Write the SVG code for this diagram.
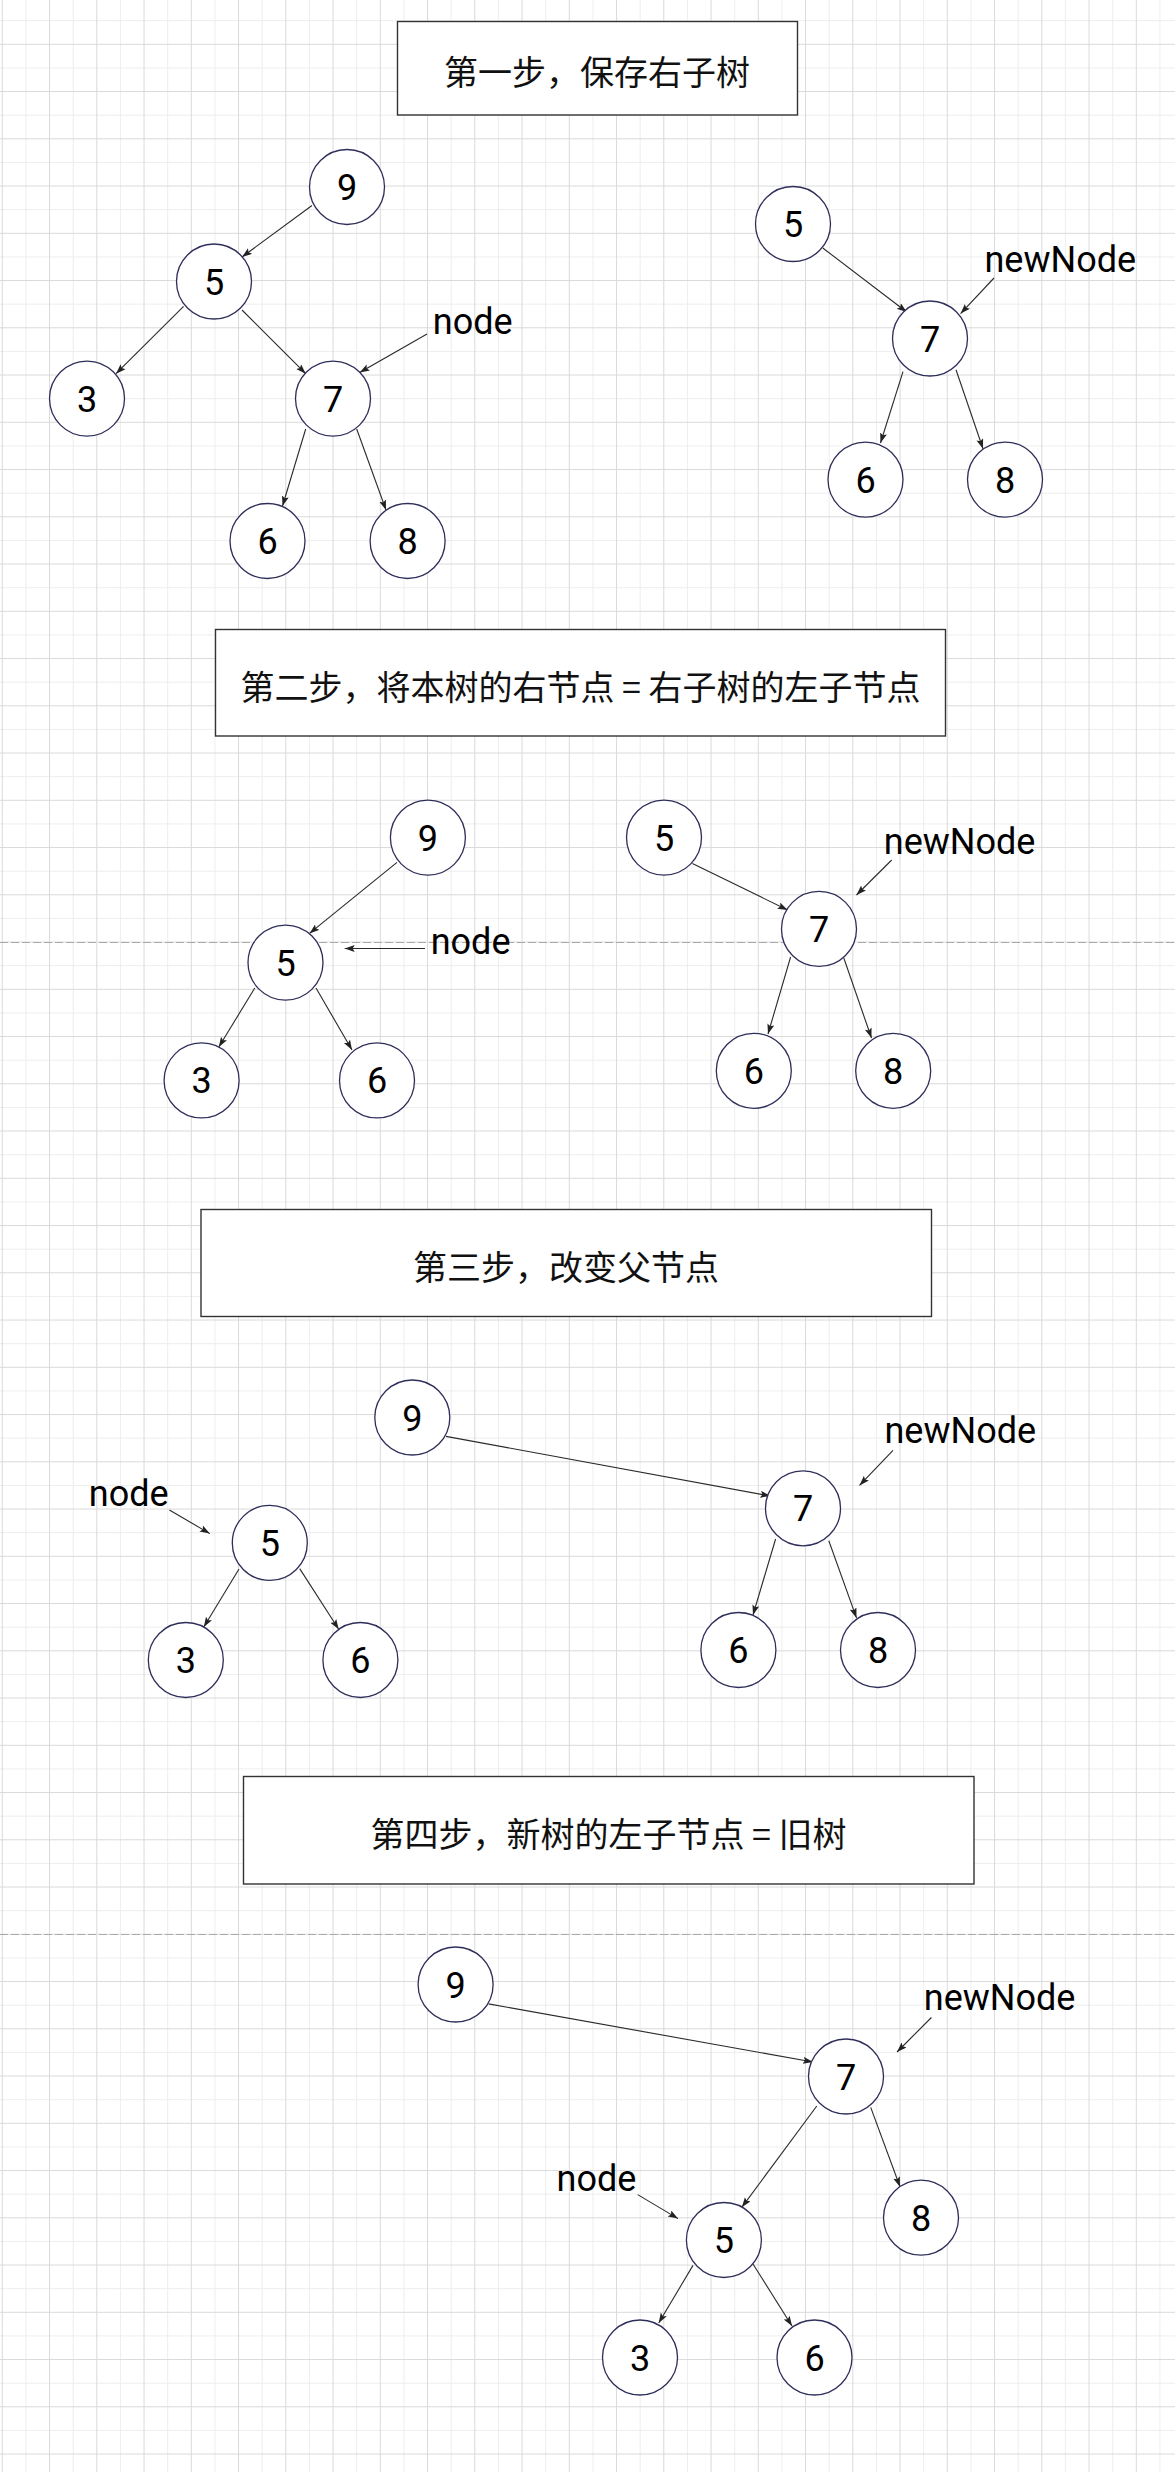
<svg xmlns="http://www.w3.org/2000/svg" width="1175" height="2472" viewBox="0 0 1175 2472">
<defs>
<pattern id="grid" patternUnits="userSpaceOnUse" x="1.8" y="43.8" width="47.25" height="47.25">
<path d="M24.1 0 V47.25 M0 24.1 H47.25" stroke="#ededed" stroke-width="1" fill="none"/>
<path d="M0.5 0 V47.25 M0 0.5 H47.25" stroke="#d9d9d9" stroke-width="1" fill="none"/>
</pattern>
<marker id="a" markerUnits="userSpaceOnUse" markerWidth="12" markerHeight="10" refX="10" refY="3.5" orient="auto">
<path d="M0,0 L10,3.5 L0,7 L2,3.5 z" fill="#222"/>
</marker>
<style>
.n circle{fill:#fff;stroke:#2e2e5a;stroke-width:1.3}
.n text,.lbl{font-family:Roboto,"Liberation Sans",sans-serif;font-size:36px;text-anchor:middle;fill:#000}
.e path{stroke:#2a2a2a;stroke-width:1.1;fill:none;marker-end:url(#a)}
.t rect{fill:#fff;stroke:#333;stroke-width:1.4}
.t text{font-family:"Noto Sans CJK SC","Noto Sans",sans-serif;font-size:34px;text-anchor:middle;dominant-baseline:central;fill:#111}
.pb{stroke:#aaaaaa;stroke-width:1.2;stroke-dasharray:8 3}
</style>
</defs>
<rect width="1175" height="2472" fill="#fff"/>
<rect width="1175" height="2472" fill="url(#grid)"/>
<line class="pb" x1="0" y1="942.5" x2="1175" y2="942.5"/>
<line class="pb" x1="0" y1="1934.5" x2="1175" y2="1934.5"/>

<g id="title1" class="t"><rect x="397.5" y="21.5" width="400" height="93.5"/><text x="597" y="70">第一步，保存右子树</text></g>
<g id="title2" class="t"><rect x="215.5" y="629.5" width="730" height="106.5"/><text x="580.5" y="685">第二步，将本树的右节点 = 右子树的左子节点</text></g>
<g id="title3" class="t"><rect x="201" y="1209.5" width="730.5" height="107"/><text x="566" y="1265">第三步，改变父节点</text></g>
<g id="title4" class="t"><rect x="243.5" y="1776.5" width="730.5" height="107.5"/><text x="608.5" y="1832">第四步，新树的左子节点 = 旧树</text></g>

<g id="connectors" class="e">
<path d="M312,205.5 L242,257"/>
<path d="M183.6,306.4 L116,373.7"/>
<path d="M242,310 L305.7,373.7"/>
<path d="M427,334 L359.7,372.5"/>
<path d="M305.7,429 L282.5,506"/>
<path d="M356.7,429 L386,510"/>
<path d="M822.8,248 L906.7,312"/>
<path d="M994,278 L960.6,313.6"/>
<path d="M903,371.7 L880.5,443"/>
<path d="M956,369.7 L983,448.8"/>

<path d="M397,862.4 L309.5,933.4"/>
<path d="M254.8,988 L218.8,1047"/>
<path d="M316,988 L352,1050"/>
<path d="M425,948.5 L344.7,948.5"/>
<path d="M692.4,863.5 L787.6,910"/>
<path d="M891.7,860 L856.5,895"/>
<path d="M790.6,957 L768,1034"/>
<path d="M843.8,958 L871.5,1038"/>

<path d="M445.9,1436.4 L770.3,1496"/>
<path d="M239,1569 L203.8,1627"/>
<path d="M299.7,1568.6 L338.7,1629.3"/>
<path d="M775.6,1539 L753,1615"/>
<path d="M828.8,1540.7 L856.5,1617.9"/>
<path d="M893,1450.4 L859.5,1485.4"/>
<path d="M169.4,1510 L209.8,1533.6"/>

<path d="M488.6,2003.9 L813,2062"/>
<path d="M816.8,2106 L741.8,2207.3"/>
<path d="M870.7,2107.4 L900,2186.8"/>
<path d="M693,2265.4 L658.7,2323"/>
<path d="M753,2264 L792,2326"/>
<path d="M931.4,2017.5 L897,2052"/>
<path d="M637.7,2194.6 L678,2218.6"/>
</g>

<g id="s1-n9" class="n"><circle cx="347" cy="187" r="37.5"/><text x="347" y="200">9</text></g>
<g id="s1-n5" class="n"><circle cx="214" cy="281.5" r="37.5"/><text x="214" y="294.5">5</text></g>
<g id="s1-n3" class="n"><circle cx="87" cy="398.6" r="37.5"/><text x="87" y="411.6">3</text></g>
<g id="s1-n7" class="n"><circle cx="333" cy="398.6" r="37.5"/><text x="333" y="411.6">7</text></g>
<g id="s1-n6" class="n"><circle cx="267.5" cy="541" r="37.5"/><text x="267.5" y="554">6</text></g>
<g id="s1-n8" class="n"><circle cx="407.6" cy="541" r="37.5"/><text x="407.6" y="554">8</text></g>
<g id="s1-r5" class="n"><circle cx="793" cy="224" r="37.5"/><text x="793" y="237">5</text></g>
<g id="s1-r7" class="n"><circle cx="930" cy="338.5" r="37.5"/><text x="930" y="351.5">7</text></g>
<g id="s1-r6" class="n"><circle cx="865.5" cy="479.6" r="37.5"/><text x="865.5" y="492.6">6</text></g>
<g id="s1-r8" class="n"><circle cx="1005" cy="479.6" r="37.5"/><text x="1005" y="492.6">8</text></g>
<text id="s1-node" class="lbl" x="472.7" y="334">node</text>
<text id="s1-newNode" class="lbl" x="1060.3" y="272">newNode</text>

<g id="s2-n9" class="n"><circle cx="427.9" cy="837.6" r="37.5"/><text x="427.9" y="850.6">9</text></g>
<g id="s2-n5" class="n"><circle cx="285.5" cy="962.6" r="37.5"/><text x="285.5" y="975.6">5</text></g>
<g id="s2-n3" class="n"><circle cx="201.6" cy="1080.4" r="37.5"/><text x="201.6" y="1093.4">3</text></g>
<g id="s2-n6" class="n"><circle cx="377" cy="1080.4" r="37.5"/><text x="377" y="1093.4">6</text></g>
<g id="s2-r5" class="n"><circle cx="664" cy="837.6" r="37.5"/><text x="664" y="850.6">5</text></g>
<g id="s2-r7" class="n"><circle cx="819" cy="928.9" r="37.5"/><text x="819" y="941.9">7</text></g>
<g id="s2-r6" class="n"><circle cx="753.8" cy="1070.8" r="37.5"/><text x="753.8" y="1083.8">6</text></g>
<g id="s2-r8" class="n"><circle cx="893.2" cy="1070.8" r="37.5"/><text x="893.2" y="1083.8">8</text></g>
<text id="s2-node" class="lbl" x="470.6" y="954">node</text>
<text id="s2-newNode" class="lbl" x="959.6" y="854">newNode</text>

<g id="s3-n9" class="n"><circle cx="412.3" cy="1417.5" r="37.5"/><text x="412.3" y="1430.5">9</text></g>
<g id="s3-n7" class="n"><circle cx="803" cy="1508.3" r="37.5"/><text x="803" y="1521.3">7</text></g>
<g id="s3-n6r" class="n"><circle cx="738.4" cy="1650" r="37.5"/><text x="738.4" y="1663">6</text></g>
<g id="s3-n8" class="n"><circle cx="878" cy="1650" r="37.5"/><text x="878" y="1663">8</text></g>
<g id="s3-n5" class="n"><circle cx="269.8" cy="1542.9" r="37.5"/><text x="269.8" y="1555.9">5</text></g>
<g id="s3-n3" class="n"><circle cx="185.8" cy="1660" r="37.5"/><text x="185.8" y="1673">3</text></g>
<g id="s3-n6l" class="n"><circle cx="360.4" cy="1660" r="37.5"/><text x="360.4" y="1673">6</text></g>
<text id="s3-node" class="lbl" x="128.7" y="1505.7">node</text>
<text id="s3-newNode" class="lbl" x="960.3" y="1443">newNode</text>

<g id="s4-n9" class="n"><circle cx="455.6" cy="1984.5" r="37.5"/><text x="455.6" y="1997.5">9</text></g>
<g id="s4-n7" class="n"><circle cx="846" cy="2076.5" r="37.5"/><text x="846" y="2089.5">7</text></g>
<g id="s4-n8" class="n"><circle cx="921" cy="2217.7" r="37.5"/><text x="921" y="2230.7">8</text></g>
<g id="s4-n5" class="n"><circle cx="723.9" cy="2240" r="37.5"/><text x="723.9" y="2253">5</text></g>
<g id="s4-n3" class="n"><circle cx="640" cy="2357.5" r="37.5"/><text x="640" y="2370.5">3</text></g>
<g id="s4-n6" class="n"><circle cx="814.5" cy="2357.5" r="37.5"/><text x="814.5" y="2370.5">6</text></g>
<text id="s4-node" class="lbl" x="596.5" y="2191.4">node</text>
<text id="s4-newNode" class="lbl" x="999.6" y="2009.7">newNode</text>
</svg>
